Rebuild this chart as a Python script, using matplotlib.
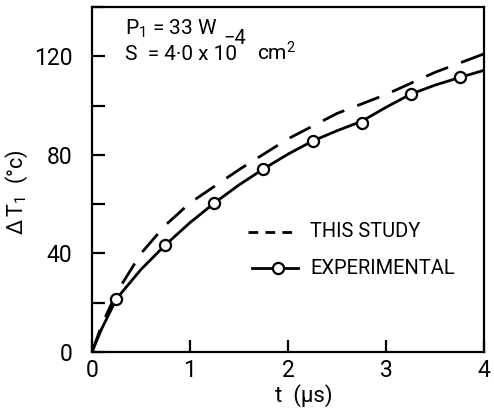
import numpy as np
import matplotlib
matplotlib.use("Agg")
import matplotlib.pyplot as plt
from matplotlib.ticker import MultipleLocator

plt.rcParams['font.family'] = ['Roboto', 'DejaVu Sans']
plt.rcParams['mathtext.fontset'] = 'custom'
plt.rcParams['mathtext.rm'] = 'Roboto'
plt.rcParams['mathtext.it'] = 'Roboto'

# values
t_study = [0, 0.1, 0.25, 0.5, 0.75, 1.0, 1.5, 2.0, 2.5, 3.0, 3.5, 4.0]
dT_study = [0, 11, 24, 40, 51.5, 60.5, 74, 86.5, 96.8, 104.5, 113.5, 121]

t_exp_line = [0, 0.1, 0.25, 0.5, 0.75, 1.0, 1.25, 1.5, 1.75, 2.0, 2.25, 2.5, 2.75, 3.0, 3.25, 3.5, 3.75, 4.0]
dT_exp_line = [0, 9.5, 21.6, 33.5, 43.5, 52.5, 60.5, 67.8, 74.3, 80.3, 85.6, 89.8, 93.6, 99.3, 104.6, 108.3, 111.4, 114.3]

t_exp = [0.25, 0.75, 1.25, 1.75, 2.25, 2.75, 3.25, 3.75]
dT_exp = [21.6, 43.5, 60.5, 74.3, 85.6, 93.1, 104.6, 111.4]

fig = plt.figure(figsize=(4.94, 4.13), dpi=100)
ax = fig.add_axes([0.1862, 0.1477, 0.7936, 0.8353])

ax.plot(t_study, dT_study, color='black', lw=2.0, ls=(0, (8.5, 5)))
ax.plot(t_exp_line, dT_exp_line, color='black', lw=2.0)
ax.plot(t_exp, dT_exp, ls='none', marker='o', ms=8, mfc='white', mec='black', mew=1.6)

ax.set_xlim(0, 4)
ax.set_ylim(0, 140)
ax.set_xticks([0, 1, 2, 3, 4])
ax.set_yticks([0, 40, 80, 120])
ax.yaxis.set_minor_locator(MultipleLocator(20))
ax.tick_params(which='both', direction='in', length=9, width=1.6, labelsize=16.5)
ax.tick_params(axis='y', pad=14)
ax.tick_params(axis='x', pad=5)
for s in ax.spines.values():
    s.set_linewidth(1.6)

ax.set_xlabel('t  (\u03bcs)', fontsize=16)
ax.xaxis.set_label_coords(0.54, -0.092)
ax.set_ylabel(r'$\Delta\,$T$_\mathregular{1}$  (°c)', fontsize=15.5)
ax.yaxis.set_label_coords(-0.158, 0.464)

# annotation
ax.text(0.084, 0.919, r'P$_\mathregular{1}$ = 33 W', transform=ax.transAxes, fontsize=15, va='baseline')
ax.text(0.084, 0.846, 'S  = 4\u00b70 x 10', transform=ax.transAxes, fontsize=15, va='baseline')
ax.text(0.336, 0.893, '\u22124', transform=ax.transAxes, fontsize=14.5, va='baseline')
ax.text(0.421, 0.846, r'cm$^\mathregular{2}$', transform=ax.transAxes, fontsize=15, va='baseline')

# legend drawn by hand in axes coordinates
ax.plot([0.398, 0.51], [0.348, 0.348], transform=ax.transAxes, color='black', lw=2.0, ls=(0, (3.5, 2.6)))
ax.text(0.556, 0.348, 'THIS STUDY', transform=ax.transAxes, fontsize=14.5, va='center')
ax.plot([0.408, 0.526], [0.243, 0.243], transform=ax.transAxes, color='black', lw=2.0)
ax.plot([0.474], [0.243], transform=ax.transAxes, marker='o', ms=8, mfc='white', mec='black', mew=1.6)
ax.text(0.556, 0.243, 'EXPERIMENTAL', transform=ax.transAxes, fontsize=14.5, va='center')

fig.savefig('out.png', dpi=100)
